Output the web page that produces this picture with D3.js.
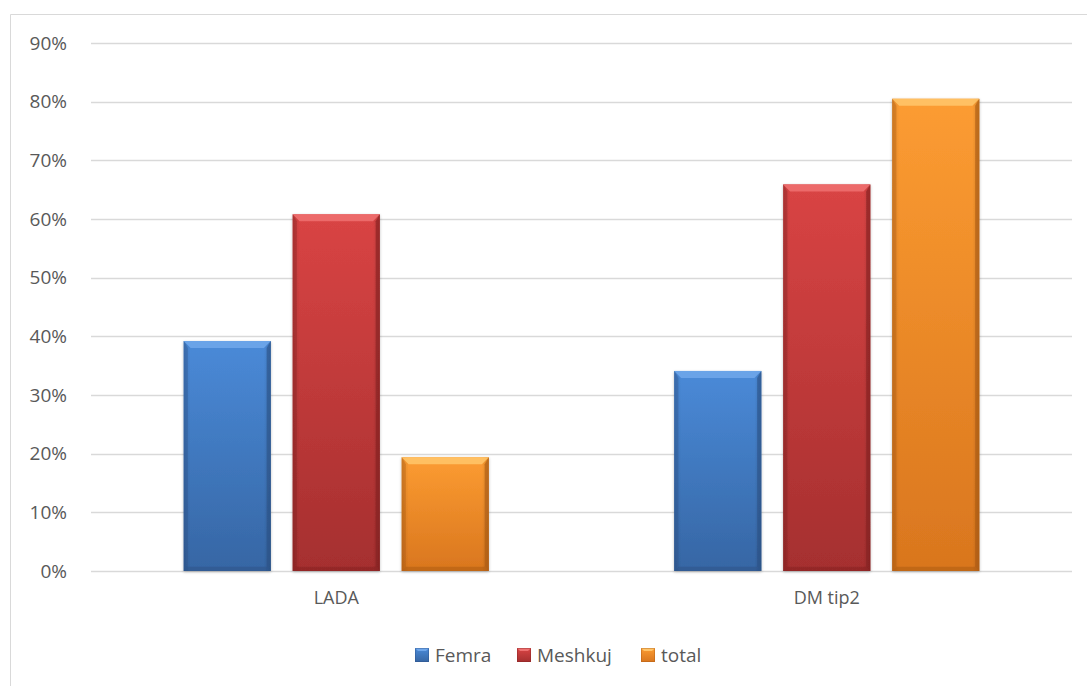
<!DOCTYPE html>
<html>
<head>
<meta charset="utf-8">
<script src="https://cdn.jsdelivr.net/npm/d3@7"></script>
<style>
  html, body { margin: 0; padding: 0; background: #fff; }
  svg { display: block; font-family: "Open Sans", Lato, sans-serif; }
</style>
</head>
<body>
<svg id="chart" width="1087" height="686"></svg>
<script>
// Data
const categories = ["LADA", "DM tip2"];
const seriesNames = ["Femra", "Meshkuj", "total"];
const femra   = [0.392, 0.341];
const meshkuj = [0.608, 0.659];
const total   = [0.194, 0.805];
const yTicks  = [0, 0.1, 0.2, 0.3, 0.4, 0.5, 0.6, 0.7, 0.8, 0.9];

const seriesValues = [femra, meshkuj, total];
const palette = [
  { top: "#4a8ad8", bot: "#3666a4", light: "#6ea6ea", dark: "#2b5186" },
  { top: "#d94444", bot: "#a52f2f", light: "#ee7070", dark: "#842222" },
  { top: "#fc9c32", bot: "#d9761e", light: "#ffc468", dark: "#a95a14" }
];
const FONT = '"Open Sans", Lato, sans-serif';
const TEXT = "#595959";

const svg = d3.select("#chart");
const W = 1087, H = 686;
const plot = { left: 91, right: 1072, top: 43, bottom: 571 };

// Outer chart border
svg.append("path")
  .attr("d", `M10.5,${H} L10.5,14.5 L${W},14.5`)
  .attr("fill", "none").attr("stroke", "#d9d9d9").attr("stroke-width", 1);

const x0 = d3.scaleBand().domain(categories).range([plot.left, plot.right]).paddingInner(0).paddingOuter(0);
const x1 = d3.scaleBand().domain(seriesNames).range([0, x0.bandwidth()]).paddingInner(0.2).paddingOuter(0.85);
const y = d3.scaleLinear().domain([0, 0.9]).range([plot.bottom, plot.top]);

// Gridlines
svg.append("g").selectAll("line").data(yTicks).join("line")
  .attr("x1", plot.left).attr("x2", plot.right)
  .attr("y1", d => Math.round(y(d)) + 0.5).attr("y2", d => Math.round(y(d)) + 0.5)
  .attr("stroke", "#d9d9d9").attr("stroke-width", 1.3);

// Y axis labels
const yAxis = d3.axisLeft(y).tickValues(yTicks).tickFormat(d3.format(".0%")).tickSize(0).tickPadding(0);
const yg = svg.append("g").attr("transform", `translate(67,0)`).call(yAxis)
  .attr("font-size", 19).attr("font-family", FONT);
yg.select(".domain").remove();
yg.selectAll("text").attr("fill", TEXT);

// X axis labels
const xAxis = d3.axisBottom(x0).tickSize(0).tickPadding(0);
const xg = svg.append("g").attr("transform", `translate(0,${plot.bottom + 20})`).call(xAxis)
  .attr("font-size", 18).attr("font-family", FONT);
xg.select(".domain").remove();
xg.selectAll("text").attr("fill", TEXT);

// Gradients
const defs = svg.append("defs");
palette.forEach((c, i) => {
  const g = defs.append("linearGradient").attr("id", "body" + i).attr("x1", 0).attr("y1", 0).attr("x2", 0).attr("y2", 1);
  g.append("stop").attr("offset", "0%").attr("stop-color", c.top);
  g.append("stop").attr("offset", "100%").attr("stop-color", c.bot);
  const s = defs.append("linearGradient").attr("id", "side" + i).attr("x1", 0).attr("y1", 0).attr("x2", 1).attr("y2", 0);
  s.append("stop").attr("offset", "0%").attr("stop-color", "#000").attr("stop-opacity", 0.12);
  s.append("stop").attr("offset", "8%").attr("stop-color", "#000").attr("stop-opacity", 0);
  s.append("stop").attr("offset", "92%").attr("stop-color", "#000").attr("stop-opacity", 0);
  s.append("stop").attr("offset", "100%").attr("stop-color", "#000").attr("stop-opacity", 0.15);
});
const shadow = defs.append("filter").attr("id", "shadow").attr("x", "-10%").attr("y", "-10%").attr("width", "120%").attr("height", "120%");
shadow.append("feGaussianBlur").attr("in", "SourceAlpha").attr("stdDeviation", 1.5);
shadow.append("feOffset").attr("dx", 0).attr("dy", 1).attr("result", "b");
shadow.append("feComponentTransfer").append("feFuncA").attr("type", "linear").attr("slope", 0.25);
const m = shadow.append("feMerge");
m.append("feMergeNode");
m.append("feMergeNode").attr("in", "SourceGraphic");

// Bevelled bar
function drawBar(g, bx, by, bw, bh, i) {
  const c = palette[i];
  const b = Math.min(7, bh / 2);
  const bar = g.append("g").attr("filter", "url(#shadow)");
  bar.append("rect").attr("x", bx).attr("y", by).attr("width", bw).attr("height", bh).attr("fill", `url(#body${i})`);
  bar.append("rect").attr("x", bx).attr("y", by).attr("width", bw).attr("height", bh).attr("fill", `url(#side${i})`);
  // top bevel
  bar.append("polygon")
    .attr("points", [[bx, by], [bx + bw, by], [bx + bw - b, by + b], [bx + b, by + b]].join(" "))
    .attr("fill", c.light).attr("opacity", 0.9);
  // left bevel
  bar.append("polygon")
    .attr("points", [[bx, by], [bx + b * 0.6, by + b], [bx + b * 0.6, by + bh - b * 0.6], [bx, by + bh]].join(" "))
    .attr("fill", c.dark).attr("opacity", 0.35);
  // right bevel
  bar.append("polygon")
    .attr("points", [[bx + bw, by], [bx + bw - b * 0.6, by + b], [bx + bw - b * 0.6, by + bh - b * 0.6], [bx + bw, by + bh]].join(" "))
    .attr("fill", c.dark).attr("opacity", 0.6);
  // bottom bevel
  bar.append("polygon")
    .attr("points", [[bx, by + bh], [bx + b * 0.6, by + bh - b * 0.6], [bx + bw - b * 0.6, by + bh - b * 0.6], [bx + bw, by + bh]].join(" "))
    .attr("fill", c.dark).attr("opacity", 0.5);
}

const barsG = svg.append("g");
categories.forEach((cat, ci) => {
  seriesNames.forEach((s, si) => {
    const v = seriesValues[si][ci];
    const bx = x0(cat) + x1(s);
    const by = y(v);
    drawBar(barsG, bx, by, x1.bandwidth(), y(0) - by, si);
  });
});

// Legend
const legendItems = [
  { name: "Femra", x: 415 },
  { name: "Meshkuj", x: 517 },
  { name: "total", x: 641 }
];
const lg = svg.append("g").attr("font-family", FONT);
legendItems.forEach((d, i) => {
  const c = palette[i];
  const ly = 648;
  lg.append("rect").attr("x", d.x).attr("y", ly).attr("width", 14).attr("height", 14).attr("fill", `url(#body${i})`);
  lg.append("polygon").attr("points", [[d.x, ly], [d.x + 14, ly], [d.x + 11, ly + 3], [d.x + 3, ly + 3]].join(" ")).attr("fill", c.light);
  lg.append("rect").attr("x", d.x + 0.5).attr("y", ly + 0.5).attr("width", 13).attr("height", 13).attr("fill", "none").attr("stroke", c.dark).attr("stroke-opacity", 0.4);
  lg.append("text").attr("x", d.x + 20).attr("y", ly + 13.5)
    .attr("fill", TEXT).attr("font-size", 19).text(d.name);
});
</script>
</body>
</html>
